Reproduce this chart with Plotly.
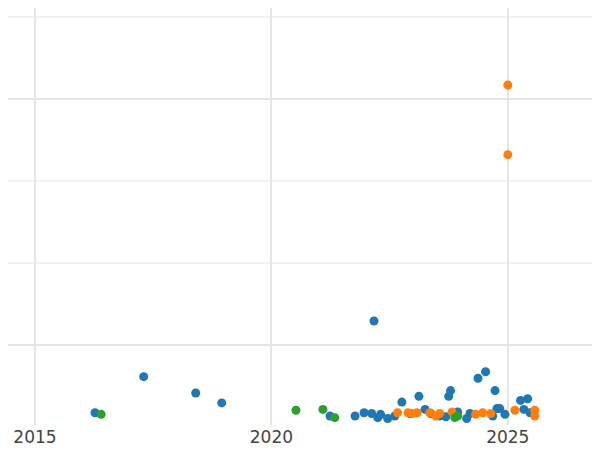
import plotly.graph_objects as go

blue_x = [2016.27, 2017.30, 2018.40, 2018.95, 2021.24, 2021.77, 2021.96, 2022.12, 2022.17, 2022.25, 2022.31, 2022.46, 2022.61, 2022.76, 2022.93, 2023.12, 2023.25, 2023.37, 2023.56, 2023.69, 2023.75, 2023.79, 2023.94, 2024.13, 2024.20, 2024.37, 2024.53, 2024.68, 2024.73, 2024.77, 2024.83, 2024.94, 2025.27, 2025.34, 2025.42, 2025.47]
blue_y = [0.17, 0.61, 0.41, 0.29, 0.13, 0.13, 0.17, 0.16, 1.29, 0.11, 0.15, 0.10, 0.13, 0.30, 0.16, 0.37, 0.21, 0.16, 0.13, 0.12, 0.37, 0.44, 0.18, 0.10, 0.16, 0.59, 0.67, 0.13, 0.44, 0.22, 0.22, 0.15, 0.32, 0.21, 0.34, 0.17]
orange_x = [2022.67, 2022.89, 2022.97, 2023.08, 2023.35, 2023.48, 2023.56, 2023.82, 2024.32, 2024.47, 2024.64, 2025.00, 2025.00, 2025.15, 2025.57, 2025.57]
orange_y = [0.17, 0.17, 0.16, 0.17, 0.17, 0.13, 0.16, 0.18, 0.15, 0.17, 0.16, 4.17, 3.32, 0.20, 0.20, 0.13]
green_x = [2016.40, 2020.52, 2021.09, 2021.34, 2023.88, 2023.94]
green_y = [0.15, 0.20, 0.21, 0.11, 0.11, 0.13]

fig = go.Figure()
for xs, ys, c in [(blue_x, blue_y, "#1f77b4"), (orange_x, orange_y, "#ff7f0e"), (green_x, green_y, "#2ca02c")]:
    fig.add_trace(go.Scatter(x=xs, y=ys, mode="markers", marker=dict(color=c, size=9), showlegend=False,
                             cliponaxis=False))

fig.update_layout(
    width=592, height=442, plot_bgcolor="white", paper_bgcolor="white",
    margin=dict(l=0, r=0, t=0, b=25),
    font=dict(family="DejaVu Sans", size=17, color="#444"),
    xaxis=dict(range=[2014.43, 2026.95], tickvals=[2015, 2020, 2025], showgrid=True,
               gridcolor="#e6e6e6", gridwidth=1.5, zeroline=False, showline=False, ticks=""),
    yaxis=dict(range=[0.02, 5.11], tickvals=[1, 4], showticklabels=False, showgrid=True,
               gridcolor="#e6e6e6", gridwidth=1.5, zeroline=False,
               minor=dict(dtick=1, tick0=0, showgrid=True, gridcolor="#f2f2f2")),
)
fig.write_html("out.html")
